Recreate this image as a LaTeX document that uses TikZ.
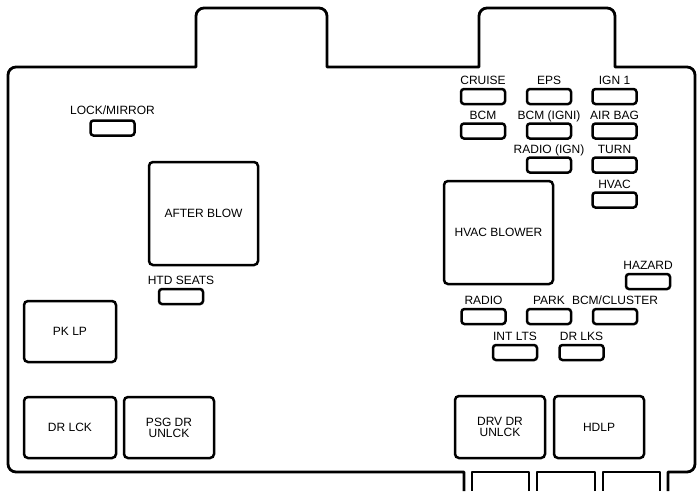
\documentclass[tikz,border=0pt]{standalone}
\usepackage{fontspec}
\setmainfont{Liberation Sans}
\usetikzlibrary{positioning}

\begin{document}
\begin{tikzpicture}[x=1pt, y=-1pt,
        outline/.style={draw=black, line width=2.8pt, line join=round},
        fuse/.style={rectangle, draw=black, line width=2.5pt, rounded corners=3pt,
        minimum width=44pt, minimum height=15pt, inner sep=0pt},
        relay/.style={rectangle, draw=black, line width=2.5pt, rounded corners=4pt,
        inner sep=0pt, align=center, font=\fontsize{12}{11}\selectfont},
        lbl/.style={inner sep=0pt, text height=8.6pt, text depth=0pt,
        font=\fontsize{12}{12}\selectfont}
    ]
        \useasboundingbox (0,0) rectangle (700,491);

        % --- housing ---
        \draw[outline] (464,491) -- (464,472) [rounded corners=8pt] -- (8,472) -- (8,67) [sharp corners] -- (196,67)
            [rounded corners=8pt] -- (196,8) -- (327,8) [sharp corners] -- (327,67) -- (479,67)
            [rounded corners=8pt] -- (479,8) -- (615,8) [sharp corners] -- (615,67)
            [rounded corners=8pt] -- (695,67) -- (695,472) [sharp corners] -- (668,472) -- (668,491);
        \draw[outline] (660,491) -- (660,472) -- (603,472) -- (603,491);
        \draw[outline] (595,491) -- (595,472) -- (537,472) -- (537,491);
        \draw[outline] (529,491) -- (529,472) -- (472,472) -- (472,491);

        % --- left side ---
        \node[fuse] (lockmirror) at (112.5,128) {};
        \node[lbl, above=5pt of lockmirror] (lockmirrorL) {LOCK/MIRROR};
        \node[relay, minimum width=109pt, minimum height=103pt] (afterblow) at (203.5,213.5) {AFTER BLOW};
        \node[fuse] (htdseats) at (181,296.5) {};
        \node[lbl, above=3pt of htdseats] (htdseatsL) {HTD SEATS};
        \node[relay, minimum width=92pt, minimum height=61pt] (pklp) at (70,331.5) {PK LP};
        \node[relay, minimum width=92pt, minimum height=61pt] (drlck) at (70,427.5) {DR LCK};
        \node[relay, minimum width=90pt, minimum height=61pt] (psgdrunlck) at (169,427.5) {PSG DR\\UNLCK};

        % --- fuse block, right ---
        \node[fuse] (cruise) at (483,96.5) {};
        \node[fuse] (eps) at (549,96.5) {};
        \node[fuse] (ign1) at (614.5,96.5) {};
        \node[fuse] (bcm) at (483,131) {};
        \node[fuse] (bcmigni) at (549,131) {};
        \node[fuse] (airbag) at (614.5,131) {};
        \node[fuse] (radioign) at (549,165) {};
        \node[fuse] (turn) at (614.5,165) {};
        \node[fuse] (hvac) at (614.5,200) {};
        \node[lbl, above=3pt of cruise] (cruiseL) {CRUISE};
        \node[lbl, above=3pt of eps] (epsL) {EPS};
        \node[lbl, above=3pt of ign1] (ign1L) {IGN 1};
        \node[lbl, above=3pt of bcm] (bcmL) {BCM};
        \node[lbl, above=3pt of bcmigni] (bcmigniL) {BCM (IGNI)};
        \node[lbl, above=3pt of airbag] (airbagL) {AIR BAG};
        \node[lbl, above=3pt of radioign] (radioignL) {RADIO (IGN)};
        \node[lbl, above=3pt of turn] (turnL) {TURN};
        \node[lbl, above=3pt of hvac] (hvacL) {HVAC};

        \node[relay, minimum width=109pt, minimum height=103pt] (hvacblower) at (498.5,232.5) {HVAC BLOWER};
        \node[fuse] (hazard) at (648,281.5) {};
        \node[lbl, above=3pt of hazard] (hazardL) {HAZARD};

        \node[fuse] (radio) at (483.5,316.5) {};
        \node[fuse] (park) at (549,316.5) {};
        \node[fuse] (bcmcluster) at (615,316.5) {};
        \node[lbl, above=3pt of radio] (radioL) {RADIO};
        \node[lbl, above=3pt of park] (parkL) {PARK};
        \node[lbl, above=3pt of bcmcluster] (bcmclusterL) {BCM/CLUSTER};
        \node[fuse] (intlts) at (515,352.5) {};
        \node[fuse] (drlks) at (581.5,352.5) {};
        \node[lbl, above=3pt of intlts] (intltsL) {INT LTS};
        \node[lbl, above=3pt of drlks] (drlksL) {DR LKS};

        \node[relay, minimum width=90pt, minimum height=62pt] (drvdrunlck) at (500,427) {DRV DR\\UNLCK};
        \node[relay, minimum width=90pt, minimum height=62pt] (hdlp) at (599,427) {HDLP};

    \end{tikzpicture}
\end{document}
